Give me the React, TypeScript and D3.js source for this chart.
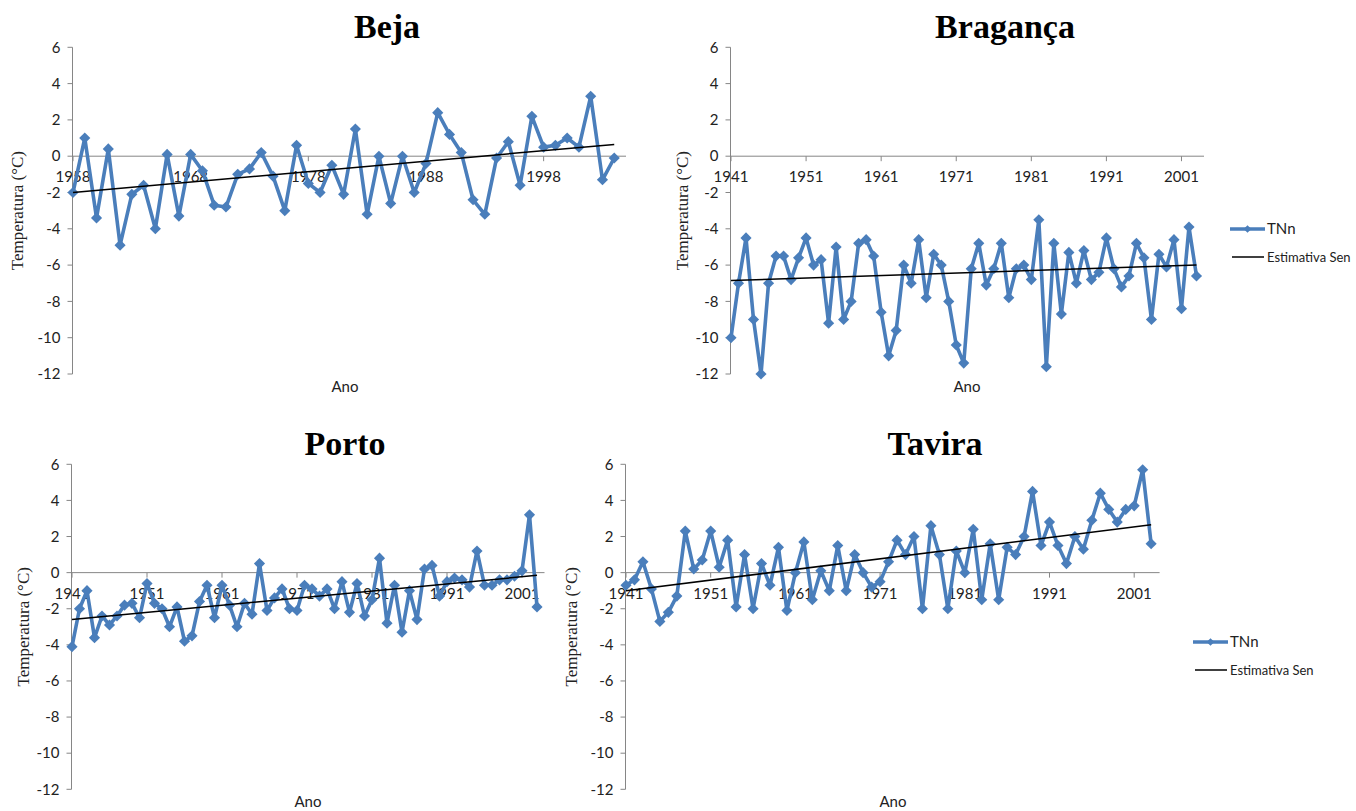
import React from "react";
import * as d3 from "d3";

// ---- Data (TNn, °C) ----
const BEJA_TNN = [
  -2.0, 1.0, -3.4, 0.4, -4.9, -2.1, -1.6, -4.0, 0.1, -3.3,
  0.1, -0.8, -2.7, -2.8, -1.0, -0.7, 0.2, -1.1, -3.0, 0.6,
  -1.5, -2.0, -0.5, -2.1, 1.5, -3.2, 0.0, -2.6, 0.0, -2.0,
  -0.4, 2.4, 1.2, 0.2, -2.4, -3.2, -0.1, 0.8, -1.6, 2.2,
  0.5, 0.6, 1.0, 0.5, 3.3, -1.3, -0.1,
];
const BRAGANCA_TNN = [
  -10.0, -7.0, -4.5, -9.0, -12.0, -7.0, -5.5, -5.5, -6.8, -5.6,
  -4.5, -6.0, -5.7, -9.2, -5.0, -9.0, -8.0, -4.8, -4.6, -5.5,
  -8.6, -11.0, -9.6, -6.0, -7.0, -4.6, -7.8, -5.4, -6.0, -8.0,
  -10.4, -11.4, -6.2, -4.8, -7.1, -6.2, -4.8, -7.8, -6.2, -6.0,
  -6.8, -3.5, -11.6, -4.8, -8.7, -5.3, -7.0, -5.2, -6.8, -6.4,
  -4.5, -6.2, -7.2, -6.6, -4.8, -5.6, -9.0, -5.4, -6.1, -4.6,
  -8.4, -3.9, -6.6,
];
const PORTO_TNN = [
  -4.1, -2.0, -1.0, -3.6, -2.4, -2.9, -2.4, -1.8, -1.7, -2.5,
  -0.6, -1.7, -2.0, -3.0, -1.9, -3.8, -3.5, -1.6, -0.7, -2.5,
  -0.7, -1.8, -3.0, -1.7, -2.3, 0.5, -2.1, -1.4, -0.9, -2.0,
  -2.1, -0.7, -0.9, -1.3, -0.9, -2.0, -0.5, -2.2, -0.6, -2.4,
  -1.5, 0.8, -2.8, -0.7, -3.3, -1.0, -2.6, 0.2, 0.4, -1.3,
  -0.5, -0.3, -0.4, -0.8, 1.2, -0.7, -0.7, -0.4, -0.4, -0.2,
  0.1, 3.2, -1.9,
];
const TAVIRA_TNN = [
  -0.7, -0.4, 0.6, -0.9, -2.7, -2.2, -1.3, 2.3, 0.2, 0.7,
  2.3, 0.3, 1.8, -1.9, 1.0, -2.0, 0.5, -0.7, 1.4, -2.1,
  0.0, 1.7, -1.5, 0.1, -1.0, 1.5, -1.0, 1.0, 0.0, -0.8,
  -0.5, 0.6, 1.8, 1.0, 2.0, -2.0, 2.6, 1.0, -2.0, 1.2,
  0.0, 2.4, -1.5, 1.6, -1.5, 1.4, 1.0, 2.0, 4.5, 1.5,
  2.8, 1.5, 0.5, 2.0, 1.3, 2.9, 4.4, 3.5, 2.8, 3.5,
  3.7, 5.7, 1.6,
];

// Sen slope estimate: [value at first year, value at last data year]
const SEN_BEJA = [-2.0, 0.65];
const SEN_BRAGANCA = [-6.85, -6.0];
const SEN_PORTO = [-2.6, -0.15];
const SEN_TAVIRA = [-1.0, 2.65];

// Categories (last category on each axis has no value)
const BEJA_YEARS = d3.range(1958, 2006);
const OTHER_YEARS = d3.range(1941, 2005);
const BEJA_LABELS = ["1958", "1968", "1978", "1988", "1998"];
const OTHER_LABELS = ["1941", "1951", "1961", "1971", "1981", "1991", "2001"];
const Y_TICKS = [6, 4, 2, 0, -2, -4, -6, -8, -10, -12];

const SERIES_NAME = "TNn";
const TREND_NAME = "Estimativa Sen";

const BLUE = "#4a7ebb";
const AXIS = "#868686";
const FONT = "Lato, 'Open Sans', sans-serif";

type PanelProps = {
  title: string;
  values: number[];
  years: number[];
  labels: string[];
  sen: number[];
  x0: number;
  x1: number;
  yTop: number;
  yBot: number;
  titleX: number;
  titleY: number;
  yTitleX: number;
  anoX: number;
  anoY: number;
  legend?: { x: number; y: number };
};

function Panel(p: PanelProps) {
  const x = d3
    .scaleLinear()
    .domain([p.years[0], p.years[p.years.length - 1]])
    .range([p.x0, p.x1]);
  const y = d3.scaleLinear().domain([-12, 6]).range([p.yBot, p.yTop]);
  const pts = p.values.map((v, i) => [p.years[i], v] as [number, number]);
  const line = d3
    .line<[number, number]>()
    .x((d) => x(d[0]))
    .y((d) => y(d[1]));
  const diamond = d3.symbol().type(d3.symbolSquare).size(62)();
  const lastYear = p.years[p.values.length - 1];
  const trend: [number, number][] = [
    [p.years[0], p.sen[0]],
    [lastYear, p.sen[1]],
  ];
  const axisX = p.x0 - 0.5;
  const zeroY = y(0);
  return (
    <g>
      <text
        x={p.titleX}
        y={p.titleY}
        textAnchor="middle"
        fontFamily="'Liberation Serif', serif"
        fontWeight="bold"
        fontSize={34}
        fill="#000"
      >
        {p.title}
      </text>
      {/* y axis */}
      <line x1={axisX} x2={axisX} y1={y(6)} y2={y(-12)} stroke={AXIS} strokeWidth={1} />
      {Y_TICKS.map((t) => (
        <g key={t}>
          <line x1={axisX - 5} x2={axisX} y1={y(t)} y2={y(t)} stroke={AXIS} />
          <text
            x={axisX - 12}
            y={y(t)}
            dy="0.35em"
            textAnchor="end"
            fontFamily={FONT}
            fontSize={15}
            fill="#222"
          >
            {t}
          </text>
        </g>
      ))}
      <text
        transform={`translate(${p.yTitleX},${(y(6) + y(-12)) / 2}) rotate(-90)`}
        textAnchor="middle"
        dy="0.35em"
        fontFamily="'Liberation Serif', serif"
        fontSize={17}
        fill="#222"
      >
        Temperatura (°C)
      </text>
      {/* category axis at 0 */}
      <line x1={axisX} x2={p.x1} y1={zeroY} y2={zeroY} stroke={AXIS} strokeWidth={1} />
      {p.labels.map((l) => (
        <g key={l}>
          <line x1={x(+l)} x2={x(+l)} y1={zeroY} y2={zeroY + 5} stroke={AXIS} />
          <text
            x={x(+l)}
            y={zeroY + 21}
            dy="0.35em"
            textAnchor="middle"
            fontFamily={FONT}
            fontSize={15}
            fill="#222"
          >
            {l}
          </text>
        </g>
      ))}
      <text x={p.anoX} y={p.anoY} dy="0.35em" textAnchor="middle" fontFamily={FONT} fontSize={15} fill="#222">
        Ano
      </text>
      {/* series */}
      <path d={line(pts) || ""} fill="none" stroke={BLUE} strokeWidth={3.6} strokeLinejoin="round" />
      {pts.map((d, i) => (
        <path
          key={i}
          d={diamond || ""}
          transform={`translate(${x(d[0])},${y(d[1])}) rotate(45)`}
          fill={BLUE}
        />
      ))}
      <path d={line(trend) || ""} fill="none" stroke="#000" strokeWidth={1.5} />
      {p.legend && (
        <g>
          <line
            x1={p.legend.x}
            x2={p.legend.x + 35}
            y1={p.legend.y}
            y2={p.legend.y}
            stroke={BLUE}
            strokeWidth={3.6}
          />
          <path
            d={d3.symbol().type(d3.symbolSquare).size(30)() || ""}
            transform={`translate(${p.legend.x + 17.5},${p.legend.y}) rotate(45)`}
            fill={BLUE}
          />
          <text x={p.legend.x + 37} y={p.legend.y} dy="0.35em" fontFamily={FONT} fontSize={15} fill="#222">
            {SERIES_NAME}
          </text>
          <line
            x1={p.legend.x + 2}
            x2={p.legend.x + 34}
            y1={p.legend.y + 28}
            y2={p.legend.y + 28}
            stroke="#000"
            strokeWidth={1.5}
          />
          <text x={p.legend.x + 37} y={p.legend.y + 28} dy="0.35em" fontFamily={FONT} fontSize={13} fill="#222">
            {TREND_NAME}
          </text>
        </g>
      )}
    </g>
  );
}

export default function App() {
  return (
    <svg
      width={1356}
      height={811}
      style={{ position: "absolute", left: 0, top: 0, background: "#fff" }}
    >
      <rect width={1356} height={811} fill="#fff" />
      <Panel
        title="Beja"
        values={BEJA_TNN}
        years={BEJA_YEARS}
        labels={BEJA_LABELS}
        sen={SEN_BEJA}
        x0={73}
        x1={626}
        yTop={47.3}
        yBot={374}
        titleX={387}
        titleY={38}
        yTitleX={17}
        anoX={345}
        anoY={387}
      />
      <Panel
        title="Bragança"
        values={BRAGANCA_TNN}
        years={OTHER_YEARS}
        labels={OTHER_LABELS}
        sen={SEN_BRAGANCA}
        x0={731}
        x1={1204}
        yTop={47.3}
        yBot={374}
        titleX={1005}
        titleY={38}
        yTitleX={682}
        anoX={967}
        anoY={387}
        legend={{ x: 1230, y: 229 }}
      />
      <Panel
        title="Porto"
        values={PORTO_TNN}
        years={OTHER_YEARS}
        labels={OTHER_LABELS}
        sen={SEN_PORTO}
        x0={72}
        x1={544.5}
        yTop={464.3}
        yBot={789.3}
        titleX={345}
        titleY={455}
        yTitleX={23}
        anoX={308}
        anoY={802}
      />
      <Panel
        title="Tavira"
        values={TAVIRA_TNN}
        years={OTHER_YEARS}
        labels={OTHER_LABELS}
        sen={SEN_TAVIRA}
        x0={626}
        x1={1159.6}
        yTop={464.3}
        yBot={789.3}
        titleX={935}
        titleY={455}
        yTitleX={571}
        anoX={893}
        anoY={802}
        legend={{ x: 1193, y: 642 }}
      />
    </svg>
  );
}
